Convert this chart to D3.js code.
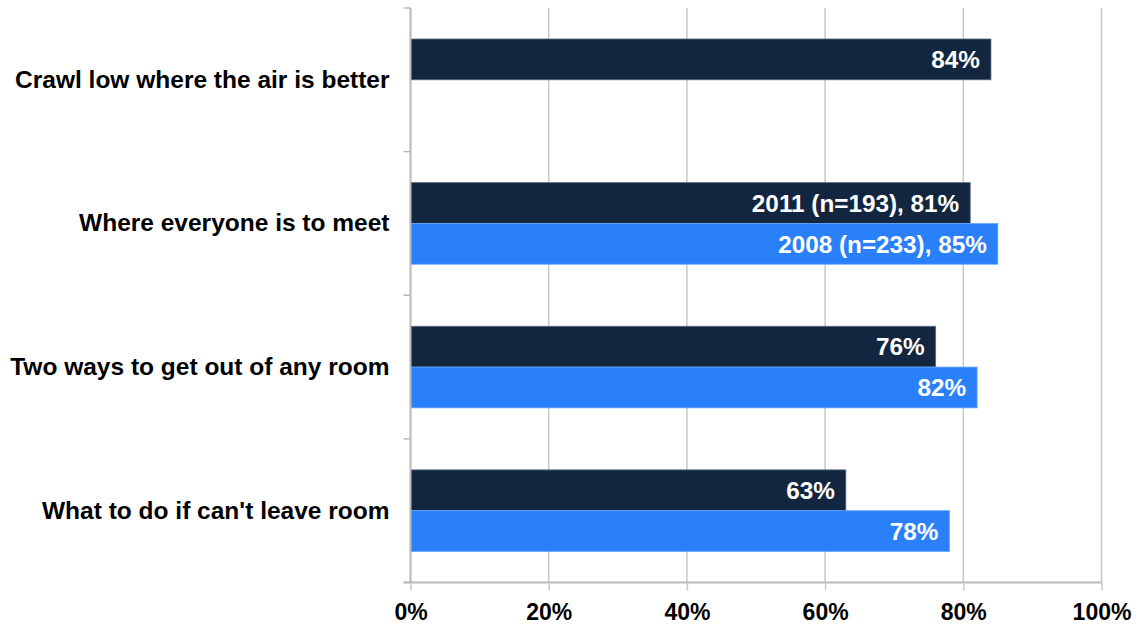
<!DOCTYPE html>
<html>
<head>
<meta charset="utf-8">
<script src="https://cdn.jsdelivr.net/npm/d3@7"></script>
<style>
  html, body { margin: 0; padding: 0; background: #fff; }
  svg { display: block; font-family: "Liberation Sans", Arial, sans-serif; }
</style>
</head>
<body>
<svg id="chart" width="1140" height="627"></svg>
<script>
// Fire escape plan knowledge, share of respondents
const categories = [
  "Crawl low where the air is better",
  "Where everyone is to meet",
  "Two ways to get out of any room",
  "What to do if can't leave room"
];
const seriesNames = ["2011 (n=193)", "2008 (n=233)"];
const values2011 = [84, 81, 76, 63];
const values2008 = [null, 85, 82, 78];
const tickValues = [0, 20, 40, 60, 80, 100];
const colors = ["#12263f", "#2a7ffa"];

const svg = d3.select("#chart");
const margin = { top: 8, left: 410.5 };

const g = svg.append("g").attr("transform", `translate(${margin.left},${margin.top})`);

const plotH = 574.5;
const x = d3.scaleLinear().domain([0, 100]).range([0, 691]);
const y = d3.scaleBand().domain(categories).range([0, plotH]).paddingInner(0).paddingOuter(0);
const inner = d3.scaleBand().domain(seriesNames).range([0, y.bandwidth()]).paddingInner(0).paddingOuter(0.76);

// vertical gridlines
g.append("g")
  .selectAll("line")
  .data(tickValues.slice(1))
  .join("line")
  .attr("x1", d => x(d)).attr("x2", d => x(d))
  .attr("y1", 0).attr("y2", plotH)
  .attr("stroke", "#c8c8c8").attr("stroke-width", 1.5);

// bars
const rows = categories.map((c, i) => ({
  cat: c,
  bars: [
    { s: seriesNames[0], v: values2011[i], color: colors[0] },
    { s: seriesNames[1], v: values2008[i], color: colors[1] }
  ].filter(b => b.v != null)
}));

const rowG = g.selectAll(".row").data(rows).join("g")
  .attr("transform", d => `translate(0,${y(d.cat)})`);

rowG.selectAll("rect").data(d => d.bars).join("rect")
  .attr("x", 0)
  .attr("y", d => inner(d.s))
  .attr("width", d => x(d.v))
  .attr("height", inner.bandwidth())
  .attr("fill", d => d.color)
  .attr("stroke", d => d.color === colors[0] ? "#5a6a80" : "#6aa6ff")
  .attr("stroke-width", 0.8);

rowG.selectAll("text.val").data(d => d.bars.map(b => Object.assign({ cat: d.cat }, b))).join("text")
  .attr("class", "val")
  .attr("x", d => x(d.v) - 11)
  .attr("y", d => inner(d.s) + inner.bandwidth() / 2)
  .attr("dy", "0.36em")
  .attr("text-anchor", "end")
  .attr("fill", "#fff")
  .attr("font-weight", "bold")
  .attr("font-size", 24.3)
  .text(d => d.cat === categories[1] ? `${d.s}, ${d.v}%` : `${d.v}%`);

// left axis
const yAxis = g.append("g").call(
  d3.axisLeft(y).tickSize(0).tickPadding(21)
);
yAxis.select(".domain").remove();
yAxis.selectAll("text")
  .attr("font-size", 24.5).attr("font-weight", "bold").attr("fill", "#000")
  .attr("font-family", "Liberation Sans, Arial, sans-serif");

// left axis line and category boundary ticks
const bounds = categories.map(c => y(c)).concat([y.range()[1]]);
g.append("line").attr("x1", 0).attr("x2", 0).attr("y1", 0).attr("y2", plotH)
  .attr("stroke", "#b8b8b8").attr("stroke-width", 2);
g.append("g").selectAll("line").data(bounds).join("line")
  .attr("x1", -7).attr("x2", 0)
  .attr("y1", d => d).attr("y2", d => d)
  .attr("stroke", "#b8b8b8").attr("stroke-width", 1.5);

// bottom axis
const xAxis = g.append("g").attr("transform", `translate(0,${plotH})`)
  .call(d3.axisBottom(x).tickValues(tickValues).tickFormat(d => d + "%").tickSize(8).tickPadding(13).tickSizeOuter(0));
xAxis.select(".domain").attr("stroke", "#b8b8b8").attr("stroke-width", 2)
  .attr("d", `M-7,0H${x(100)}`);
xAxis.selectAll(".tick line").attr("stroke", "#c8c8c8").attr("stroke-width", 1.5);
xAxis.selectAll("text")
  .attr("font-size", 23).attr("font-weight", "bold").attr("fill", "#000")
  .attr("font-family", "Liberation Sans, Arial, sans-serif");
</script>
</body>
</html>
